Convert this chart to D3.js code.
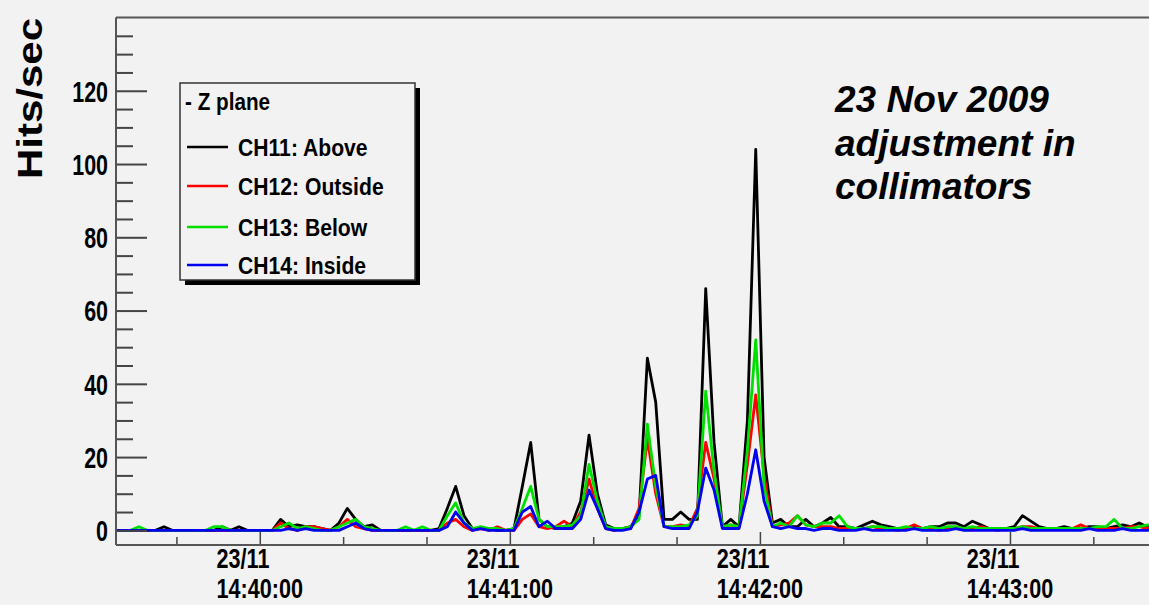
<!DOCTYPE html>
<html>
<head>
<meta charset="utf-8">
<script src="https://cdn.jsdelivr.net/npm/d3@7"></script>
<style>
  html, body { margin: 0; padding: 0; background: #f2f2f2; }
  svg { display: block; font-family: "Liberation Sans", Arial, sans-serif; }
</style>
</head>
<body>
<div id="chart"></div>
<script>
// samples every 2 s starting 23 Nov 2009 14:39:25 (UTC)
const startTime = Date.UTC(2009, 10, 23, 14, 39, 25);
const stepSec = 2;

const seriesNames = ["CH11: Above", "CH12: Outside", "CH13: Below", "CH14: Inside"];
const seriesColors = ["#000000", "#ff0000", "#00e000", "#0000f0"];

const ch11 = [
  0, 0, 0, 0, 0, 0, 1, 0, 0, 0,
  0, 0, 0, 1, 0, 1, 0, 0, 0, 0,
  3, 1, 1.5, 1, 1, 0.5, 0, 2, 6, 3,
  1, 1.5, 0, 0, 0, 0, 0, 0, 0, 0.5,
  6, 12, 4, 0.5, 0.5, 0.5, 0, 0, 0.5, 12,
  24, 3, 1, 0.5, 1, 2, 8, 26, 10, 1.5,
  0.5, 0.5, 1, 4, 47, 35, 3, 3, 5, 3,
  3, 66, 24, 1, 3, 1, 30, 104, 20, 2,
  3, 1, 1, 3, 1, 2, 3.5, 1, 1, 0.5,
  1.5, 2.5, 1.5, 1, 0.5, 0.5, 1, 0.5, 1, 1,
  2, 2, 1, 2.5, 1.5, 0.5, 0.5, 0.5, 1, 4,
  2.5, 1, 0.5, 0.5, 1, 0.5, 0.5, 1, 1, 0.5,
  1, 1.5, 1, 2, 1, 2
];

const ch12 = [
  0, 0, 0, 0, 0, 0, 0, 0, 0, 0,
  0, 0, 0, 0, 0, 0, 0, 0, 0, 0,
  2, 0.5, 0, 1, 1, 0.5, 0, 1, 3, 1,
  0.5, 0, 0, 0, 0, 0, 0, 0, 0, 0,
  2, 3, 1, 0, 0.5, 0, 1, 0, 0, 3,
  4.5, 1, 0.5, 1, 2.5, 1, 5, 14, 6, 0.5,
  0, 0.5, 0.5, 6, 25, 10, 1, 1, 1.5, 1,
  6, 24, 14, 1, 1.5, 1, 18, 37, 15, 1,
  1.5, 2, 4, 1.5, 1, 1, 1, 0.5, 0.5, 0.5,
  0.5, 1, 0.5, 0.5, 0, 0.5, 1.5, 0.5, 0.5, 0,
  0.5, 0.5, 0.5, 0.5, 1, 0.5, 0, 0.5, 0.5, 1,
  1, 0.5, 0.5, 0.5, 0.5, 0.5, 1.5, 0.5, 0.5, 0.5,
  0.5, 0.5, 1, 1, 0.5, 1
];

const ch13 = [
  0, 0, 0, 1, 0, 0, 0, 0, 0, 0,
  0, 0, 1, 1, 0, 0, 0, 0, 0, 0,
  1, 2, 0.5, 1, 0.5, 0, 0, 1, 2, 3,
  1, 0.5, 0, 0, 0, 1, 0, 1, 0, 0,
  4, 7.5, 2, 0.5, 1, 0.5, 0.5, 0, 0.5, 6,
  12, 3, 1, 1, 1, 1.5, 4, 18, 8, 1,
  0.5, 0.5, 1, 3, 29, 12, 1, 1, 1, 1.5,
  4, 38, 16, 1, 1.5, 1, 22, 52, 12, 1,
  2, 1, 4, 1.5, 1, 2, 2, 4, 1, 0.5,
  0.5, 1, 1, 0.5, 0.5, 1, 0.5, 0.5, 1, 0.5,
  1, 1, 0.5, 1, 0.5, 0.5, 0.5, 0.5, 0.5, 1,
  0.5, 0.5, 0.5, 0.5, 0.5, 0.5, 0.5, 0.5, 1, 1,
  3, 0.5, 0.5, 1, 1.5, 1
];

const ch14 = [
  0, 0, 0, 0, 0, 0, 0, 0, 0, 0,
  0, 0, 0, 0, 0, 0, 0, 0, 0, 0,
  0, 0.5, 0, 0.5, 0, 0, 0, 0, 1, 2,
  0.5, 0, 0, 0, 0, 0, 0, 0, 0, 0,
  1, 5, 2, 0, 0.5, 0, 0, 0, 0, 5,
  6.5, 1, 2.5, 0.5, 0.5, 0.5, 3, 11, 6, 0.5,
  0, 0, 0.5, 5, 14, 15, 1, 0.5, 0.5, 0.5,
  5, 17, 11, 0.5, 0.5, 0.5, 10, 22, 8, 1,
  0.5, 1, 0.5, 0.5, 0, 0.5, 0.5, 0, 0, 0,
  0.5, 0, 0, 0, 0, 0, 0.5, 0, 0, 0,
  0, 0.5, 0, 0, 0, 0, 0, 0, 0, 0.5,
  0, 0, 0, 0, 0, 0, 0, 0.5, 0, 0,
  0, 0.5, 0, 0, 0, 0.5
];

const yMajorTicks = [0, 20, 40, 60, 80, 100, 120];
const dateLabel = "23/11";
const minuteLabels = ["14:40:00", "14:41:00", "14:42:00", "14:43:00"];
const legendTitle = "- Z plane";
const noteLines = ["23 Nov 2009", "adjustment in", "collimators"];


function drawChart() {
    const width = 1149, height = 605;
    const container = d3.select("#chart");
    container.selectAll("*").remove();

    const svg = container.append("svg")
        .attr("width", width)
        .attr("height", height);

    svg.append("rect")
        .attr("width", width)
        .attr("height", height)
        .attr("fill", "#f2f2f2");

    const plot = { left: 116, top: 17.5, bottom: 545, right: 1160 };

    const x = d3.scaleUtc()
        .domain([new Date(Date.UTC(2009, 10, 23, 14, 39, 25, 500)), new Date(Date.UTC(2009, 10, 23, 14, 43, 36))])
        .range([plot.left, plot.right]);

    const y = d3.scaleLinear()
        .domain([-4, 140])
        .range([plot.bottom, plot.top]);

    const times = ch11.map((d, i) => new Date(startTime + i * stepSec * 1000));
    const allSeries = [ch11, ch12, ch13, ch14];

    // clip lines to the frame
    svg.append("clipPath").attr("id", "plotClip")
        .append("rect")
        .attr("x", plot.left)
        .attr("y", plot.top)
        .attr("width", width - plot.left)
        .attr("height", plot.bottom - plot.top);

    const line = d3.line()
        .x((d, i) => x(times[i]))
        .y(d => y(d));

    const lines = svg.append("g").attr("clip-path", "url(#plotClip)");
    allSeries.forEach((s, k) => {
        lines.append("path")
            .datum(s)
            .attr("fill", "none")
            .attr("stroke", seriesColors[k])
            .attr("stroke-width", 2.8)
            .attr("stroke-linejoin", "round")
            .attr("d", line);
    });

    // Y axis: long major ticks, short minor ones, all pointing inside
    const yMinor = d3.range(5, 140, 5).filter(v => v % 20 !== 0);
    svg.append("g")
        .attr("transform", `translate(${plot.left},0)`)
        .call(d3.axisLeft(y).tickValues(yMinor).tickSize(-17).tickFormat(""))
        .call(g => g.select(".domain").remove())
        .call(g => g.selectAll("line").attr("stroke", "#444").attr("stroke-width", 2));

    const yAxis = svg.append("g")
        .attr("transform", `translate(${plot.left},0)`)
        .call(d3.axisLeft(y).tickValues(yMajorTicks).tickSize(-31).tickPadding(0))
        .call(g => g.select(".domain").remove())
        .call(g => g.selectAll("line").attr("stroke", "#444").attr("stroke-width", 2));

    yAxis.selectAll("text")
        .attr("x", null)
        .attr("dy", "0.36em")
        .attr("transform", "translate(-8,0) scale(0.74,1)")
        .style("font-size", "29px")
        .style("font-weight", "bold")
        .style("fill", "#000")
        .attr("text-anchor", "end");

    // X axis: minute ticks and 20 s minor ticks
    const t0 = Date.UTC(2009, 10, 23, 14, 39, 40);
    const xMinor = d3.range(0, 13).map(k => new Date(t0 + k * 20000)).filter(d => d.getUTCSeconds() !== 0);
    const xMajor = minuteLabels.map(s => {
        const [hh, mm, ss] = s.split(":").map(Number);
        return new Date(Date.UTC(2009, 10, 23, hh, mm, ss));
    });

    svg.append("g")
        .attr("transform", `translate(0,${plot.bottom})`)
        .call(d3.axisBottom(x).tickValues(xMinor).tickSize(-8).tickFormat(""))
        .call(g => g.select(".domain").remove())
        .call(g => g.selectAll("line").attr("stroke", "#444").attr("stroke-width", 1.5));

    svg.append("g")
        .attr("transform", `translate(0,${plot.bottom})`)
        .call(d3.axisBottom(x).tickValues(xMajor).tickSize(-13).tickFormat(""))
        .call(g => g.select(".domain").remove())
        .call(g => g.selectAll("line").attr("stroke", "#444").attr("stroke-width", 1.5));

    const xLab = svg.append("g").selectAll("g")
        .data(xMajor)
        .enter()
        .append("g")
        .attr("transform", d => `translate(${x(d)},${plot.bottom}) scale(0.8,1)`)
        .style("font-size", "27px")
        .style("font-weight", "bold");

    xLab.each(function(d, i) {
        const g = d3.select(this);
        const t = g.append("text")
            .attr("y", 53)
            .attr("text-anchor", "middle")
            .text(minuteLabels[i]);
        const w = t.node().getComputedTextLength();
        g.append("text")
            .attr("x", -w / 2)
            .attr("y", 23)
            .text(dateLabel);
    });

    // frame
    svg.append("line")
        .attr("x1", plot.left).attr("x2", width)
        .attr("y1", plot.top).attr("y2", plot.top)
        .attr("stroke", "#555").attr("stroke-width", 2);
    svg.append("line")
        .attr("x1", plot.left).attr("x2", width)
        .attr("y1", plot.bottom).attr("y2", plot.bottom)
        .attr("stroke", "#555").attr("stroke-width", 2);
    svg.append("line")
        .attr("x1", plot.left).attr("x2", plot.left)
        .attr("y1", plot.top).attr("y2", plot.bottom)
        .attr("stroke", "#555").attr("stroke-width", 2);

    // Y label
    svg.append("text")
        .attr("transform", "translate(42,98.5) rotate(-90) scale(1.2,1)")
        .attr("text-anchor", "middle")
        .style("font-size", "35px")
        .style("font-weight", "bold")
        .text("Hits/sec");

    // Legend
    const lg = { x: 180, y: 83, w: 235, h: 197 };
    svg.append("rect")
        .attr("x", lg.x + 5).attr("y", lg.y + 5)
        .attr("width", lg.w).attr("height", lg.h)
        .attr("fill", "#000");
    svg.append("rect")
        .attr("x", lg.x).attr("y", lg.y)
        .attr("width", lg.w).attr("height", lg.h)
        .attr("fill", "#f2f2f2")
        .attr("stroke", "#333")
        .attr("stroke-width", 1.5);

    svg.append("text")
        .attr("transform", `translate(${lg.x + 5},${lg.y + 27}) scale(0.9,1)`)
        .style("font-size", "23px")
        .style("font-weight", "bold")
        .text(legendTitle);

    const rowY = [147, 186, 227, 265];
    seriesNames.forEach((name, k) => {
        svg.append("line")
            .attr("x1", lg.x + 7).attr("x2", lg.x + 48)
            .attr("y1", rowY[k]).attr("y2", rowY[k])
            .attr("stroke", seriesColors[k])
            .attr("stroke-width", 2.5);
        svg.append("text")
            .attr("transform", `translate(${lg.x + 58},${rowY[k] + 8.5}) scale(0.92,1)`)
            .style("font-size", "23px")
            .style("font-weight", "bold")
            .text(name);
    });

    // Annotation
    svg.append("text")
        .attr("x", 835)
        .attr("y", 112)
        .style("font-size", "37px")
        .style("font-weight", "bold")
        .style("font-style", "italic")
        .selectAll("tspan")
        .data(noteLines)
        .enter()
        .append("tspan")
        .attr("x", 835)
        .attr("dy", (d, i) => i === 0 ? 0 : 43.5)
        .text(d => d);
}

drawChart();
</script>
</body>
</html>
